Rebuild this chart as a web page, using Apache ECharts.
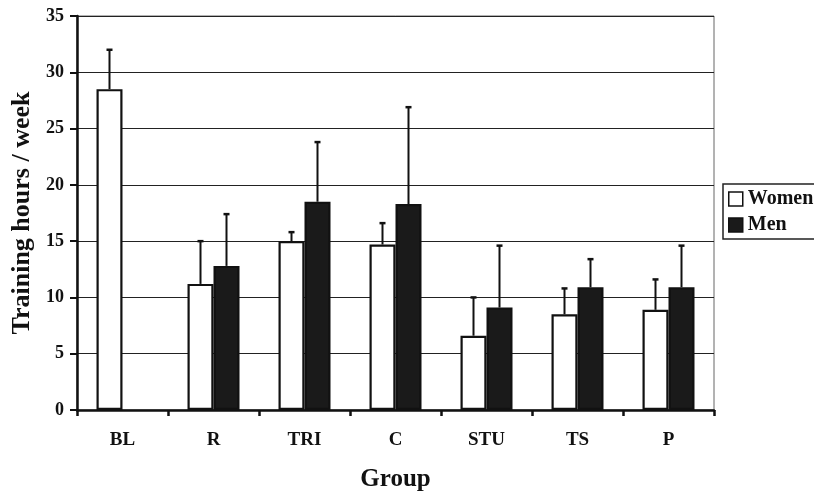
<!DOCTYPE html>
<html><head><meta charset="utf-8">
<script src="https://cdn.jsdelivr.net/npm/echarts@6/dist/echarts.min.js"></script>
<style>html,body{margin:0;padding:0;background:#fff}#c{width:814px;height:494px}</style>
</head><body><div id="c"></div>
<script>
var categories = ['BL', 'R', 'TRI', 'C', 'STU', 'TS', 'P'];
var womenMean = [28.5, 11.2, 15.0, 14.7, 6.6, 8.5, 8.9];
var womenUpper = [32.0, 15.0, 15.8, 16.6, 10.0, 10.8, 11.6];
var menMean = [null, 12.8, 18.5, 18.3, 9.1, 10.9, 10.9];
var menUpper = [null, 17.4, 23.8, 26.9, 14.6, 13.4, 14.6];
var yTicks = [0, 5, 10, 15, 20, 25, 30, 35];

var FONT = "'Liberation Serif','Times New Roman',serif";
var BAR_W = 26;

function errSeries(means, uppers, side) {
  var data = [];
  for (var i = 0; i < categories.length; i++) {
    if (means[i] != null) data.push([i, means[i], uppers[i]]);
  }
  return {
    type: 'custom',
    name: side < 0 ? 'WomenErr' : 'MenErr',
    z: 5,
    data: data,
    renderItem: function (params, api) {
      var x = api.value(0);
      var lo = api.coord([x, api.value(1)]);
      var hi = api.coord([x, api.value(2)]);
      var cx = lo[0] + side * BAR_W / 2;
      var cap = 3;
      return {
        type: 'group',
        children: [
          { type: 'line', shape: { x1: cx, y1: lo[1], x2: cx, y2: hi[1] }, style: { stroke: '#111', lineWidth: 2 } },
          { type: 'line', shape: { x1: cx - cap, y1: hi[1], x2: cx + cap, y2: hi[1] }, style: { stroke: '#111', lineWidth: 2.5 } }
        ]
      };
    }
  };
}

var chart = echarts.init(document.getElementById('c'));
chart.setOption({
  animation: false,
  backgroundColor: '#fff',
  textStyle: { fontFamily: FONT },
  grid: { left: 77, right: 100, top: 16, bottom: 84, show: true, borderColor: '#666', borderWidth: 1,
    backgroundColor: 'transparent', outerBoundsMode: 'none', containLabel: false },
  legend: {
    data: [
      { name: 'Women', itemStyle: { color: '#fff', borderColor: '#111', borderWidth: 1.5 } },
      { name: 'Men', itemStyle: { color: '#1a1a1a', borderColor: '#111', borderWidth: 1.5 } }
    ],
    orient: 'vertical',
    left: 723, top: 184,
    padding: [5, 10, 4, 5],
    itemGap: 6,
    itemWidth: 14, itemHeight: 14,
    icon: 'rect',
    borderColor: '#222', borderWidth: 1.5,
    textStyle: { fontFamily: FONT, fontWeight: 'bold', fontSize: 20, color: '#111', padding: [0, 0, 0, 0] }
  },
  xAxis: {
    type: 'category',
    data: categories,
    name: 'Group',
    nameLocation: 'middle',
    nameGap: 57,
    nameTextStyle: { fontFamily: FONT, fontWeight: 'bold', fontSize: 25, color: '#111' },
    axisLine: { lineStyle: { color: '#111', width: 2.5 } },
    axisTick: { show: true, length: 6, lineStyle: { color: '#111', width: 2.5 } },
    axisLabel: { fontFamily: FONT, fontWeight: 'bold', fontSize: 19, color: '#111', margin: 21 },
    splitLine: { show: false }
  },
  yAxis: {
    type: 'value',
    min: 0, max: 35, interval: 5,
    name: 'Training hours / week',
    nameLocation: 'middle',
    nameGap: 42,
    nameTextStyle: { fontFamily: FONT, fontWeight: 'bold', fontSize: 26, color: '#111' },
    axisLine: { show: true, lineStyle: { color: '#111', width: 2.5 } },
    axisTick: { show: true, length: 7, lineStyle: { color: '#111', width: 2 } },
    axisLabel: { fontFamily: FONT, fontWeight: 'bold', fontSize: 18, color: '#111', margin: 13,
      formatter: function (v) { return yTicks.indexOf(v) >= 0 ? String(v) : ''; } },
    splitLine: { show: true, lineStyle: { color: '#222', width: 1.2 } }
  },
  series: [
    { name: 'Women', type: 'bar', data: womenMean, barWidth: BAR_W, barGap: '0%',
      itemStyle: { color: '#fff', borderColor: '#111', borderWidth: 2.2 } },
    { name: 'Men', type: 'bar', data: menMean, barWidth: BAR_W, barGap: '0%',
      itemStyle: { color: '#1a1a1a', borderColor: '#111', borderWidth: 2.2 } },
    errSeries(womenMean, womenUpper, -1),
    errSeries(menMean, menUpper, 1)
  ]
});
</script></body></html>
